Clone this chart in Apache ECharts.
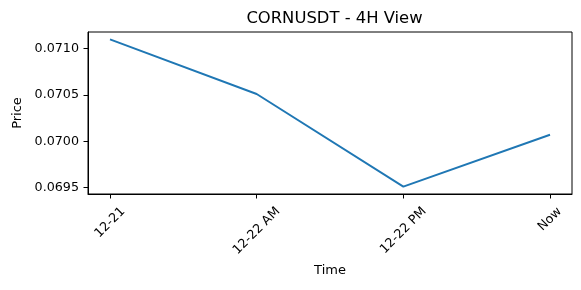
<!DOCTYPE html>
<html>
<head>
<meta charset="utf-8">
<script src="https://cdn.jsdelivr.net/npm/echarts@6/dist/echarts.min.js"></script>
<style>
html,body{margin:0;padding:0;background:#fff;}
#chart{width:581px;height:290px;}
</style>
</head>
<body>
<div id="chart"></div>
<script>
const categories = ['12-21', '12-22 AM', '12-22 PM', 'Now'];
const prices = [0.07110, 0.07051, 0.06951, 0.07007];
const yTicks = [0.0695, 0.0700, 0.0705, 0.0710];
const titleText = 'CORNUSDT - 4H View';
const xName = 'Time';
const yName = 'Price';

const FONT = '"DejaVu Sans", sans-serif';
const FS = 12.7;

// matplotlib-like 5% margins
const yMinD = Math.min(...prices), yMaxD = Math.max(...prices);
const yPad = (yMaxD - yMinD) * 0.05;
const xPad = (categories.length - 1) * 0.05;

// measure label widths for center-aligned rotated labels
const cv = document.createElement('canvas').getContext('2d');
cv.font = FS + 'px ' + FONT;
const rich = {};
categories.forEach((c, i) => {
  const w = cv.measureText(c).width;
  const s = (w + FS) / 2;
  rich['r' + i] = { padding: [s, s, 0, 0], fontSize: FS, fontFamily: FONT, color: '#000' };
});

const chart = echarts.init(document.getElementById('chart'), null, { renderer: 'canvas' });
chart.setOption({
  animation: false,
  backgroundColor: '#fff',
  title: {
    text: titleText,
    left: 329.5, top: 6, textAlign: 'center',
    textStyle: { fontFamily: FONT, fontSize: 16.4, fontWeight: 'normal', color: '#000' }
  },
  grid: { left: 88, right: 9, top: 32, bottom: 96, show: true, borderColor: '#000', borderWidth: 1, backgroundColor: 'transparent' },
  xAxis: {
    type: 'value',
    min: -xPad, max: categories.length - 1 + xPad,
    name: xName, nameLocation: 'middle', nameGap: 69,
    nameTextStyle: { fontFamily: FONT, fontSize: 13, color: '#000' },
    axisLine: { show: true, onZero: false, lineStyle: { color: '#000', width: 1 } },
    axisTick: { show: true, length: 4.5, lineStyle: { color: '#000', width: 1 }, customValues: categories.map((c, i) => i) },
    splitLine: { show: false },
    axisLabel: {
      customValues: categories.map((c, i) => i),
      rotate: 45, align: 'center', verticalAlign: 'middle', margin: 11,
      formatter: v => { const i = Math.round(v); return '{r' + i + '|' + categories[i] + '}'; },
      rich: rich,
      fontFamily: FONT, fontSize: FS, color: '#000'
    }
  },
  yAxis: {
    type: 'value',
    min: yMinD - yPad, max: yMaxD + yPad,
    name: yName, nameLocation: 'middle', nameGap: 64, nameRotate: 90,
    nameTextStyle: { fontFamily: FONT, fontSize: 13, color: '#000' },
    axisLine: { show: true, onZero: false, lineStyle: { color: '#000', width: 1 } },
    axisTick: { show: true, length: 4.5, lineStyle: { color: '#000', width: 1 }, customValues: yTicks },
    splitLine: { show: false },
    axisLabel: {
      customValues: yTicks, margin: 9,
      formatter: v => v.toFixed(4),
      fontFamily: FONT, fontSize: FS, color: '#000'
    }
  },
  series: [{
    type: 'line',
    data: prices.map((p, i) => [i, p]),
    showSymbol: false,
    lineStyle: { color: '#1f77b4', width: 1.9 },
    itemStyle: { color: '#1f77b4' }
  }]
});
</script>
</body>
</html>
